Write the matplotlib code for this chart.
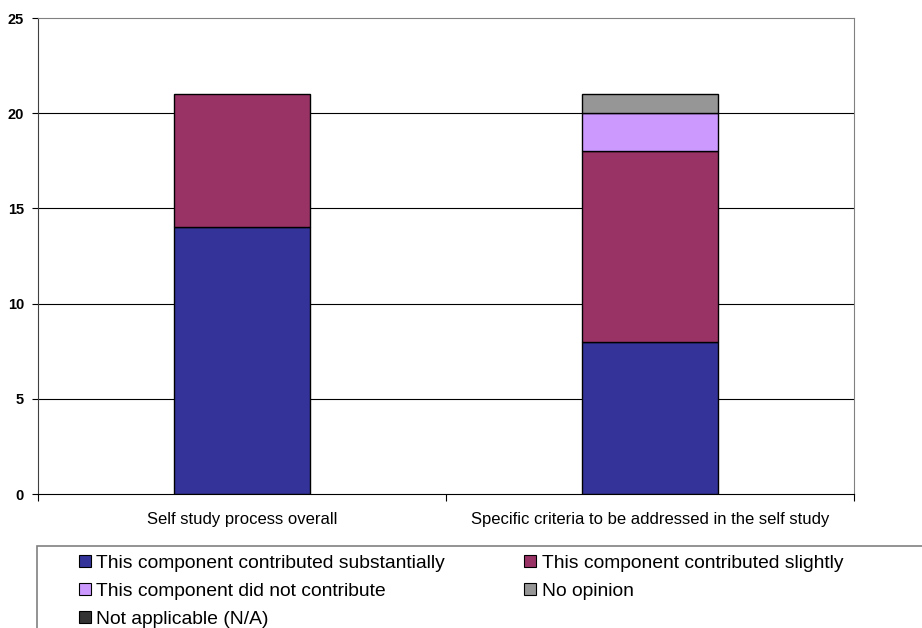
import matplotlib
matplotlib.use("Agg")
import matplotlib.pyplot as plt
from matplotlib.patches import Rectangle, Patch
import numpy as np

plt.rcParams['font.family'] = ['Liberation Sans', 'DejaVu Sans']

categories = ['Self study process overall',
              'Specific criteria to be addressed in the self study']
series_names = ['This component contributed substantially',
                'This component contributed slightly',
                'This component did not contribute',
                'No opinion',
                'Not applicable (N/A)']
substantially = [14, 8]
slightly = [7, 10]
not_contribute = [0, 2]
no_opinion = [0, 1]
not_applicable = [0, 0]
colors = ['#333399', '#993366', '#CC99FF', '#969696', '#333333']

W, H = 922, 628
fig = plt.figure(figsize=(W / 100, H / 100), dpi=100)
ax = fig.add_axes([38 / W, 1 - 494 / H, (854 - 38) / W, (494 - 18) / H])

x = np.arange(len(categories))
series = [substantially, slightly, not_contribute, no_opinion, not_applicable]
bottom = np.zeros(len(categories))
for vals, c in zip(series, colors):
    vals = np.array(vals, dtype=float)
    lw = [1.0 if v > 0 else 0 for v in vals]
    ax.bar(x, vals, 0.333, bottom=bottom, color=c, edgecolor='black',
           linewidth=lw, zorder=3)
    bottom += vals

ax.set_xlim(-0.5, 1.5)
ax.set_ylim(0, 25)
ax.set_yticks([0, 5, 10, 15, 20, 25])
ax.set_yticklabels(['0', '5', '10', '15', '20', '25'], fontweight='bold', fontsize=10.5)
for yv in [5, 10, 15, 20]:
    ax.axhline(yv, color='black', linewidth=0.8, zorder=1)

ax.set_xticks([-0.5, 0.5, 1.5], minor=False)
ax.set_xticklabels(['', '', ''])
ax.set_xticks(x, minor=True)
ax.set_xticklabels(categories, minor=True, fontsize=12)
ax.tick_params(axis='x', which='minor', length=0, pad=13)
ax.tick_params(axis='x', which='major', length=5, width=0.8, direction='out')
ax.tick_params(axis='y', length=4, width=0.8, direction='out', pad=6)

ax.spines['top'].set_color('#808080')
ax.spines['right'].set_color('#808080')
ax.spines['left'].set_color('#404040')
ax.spines['bottom'].set_color('black')
for s in ax.spines.values():
    s.set_linewidth(0.8)

# legend box, cut off at figure edge
fig.patches.append(Rectangle((37 / W, -0.2), 1.2, 1 - 546 / H + 0.2,
                             transform=fig.transFigure, fill=False,
                             edgecolor='#808080', linewidth=1.2))

handles = [Patch(facecolor=c, edgecolor='black', linewidth=0.8) for c in colors]
order = [0, 2, 4, 1, 3]
fig.legend([handles[i] for i in order], [series_names[i] for i in order],
           ncol=2, loc='upper left', bbox_to_anchor=(79 / W, 1 - 555 / H),
           frameon=False, fontsize=13.9, handlelength=0.6, handleheight=0.6,
           handletextpad=0.3, columnspacing=4.1, labelspacing=0.56,
           borderpad=0, borderaxespad=0)

fig.savefig('out.png', dpi=100)
